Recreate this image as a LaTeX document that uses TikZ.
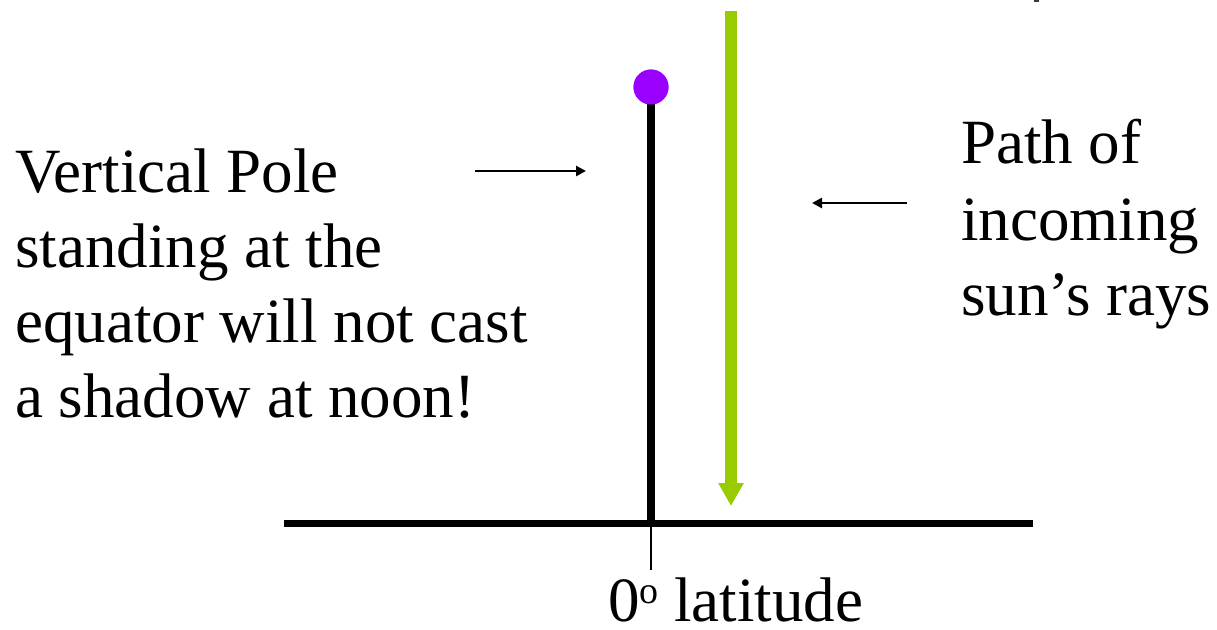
\documentclass[tikz,border=0pt]{standalone}
\usepackage{fontspec}
\setmainfont{Liberation Serif}
\usetikzlibrary{arrows.meta}
\definecolor{raygreen}{RGB}{153,204,0}
\definecolor{dotpurple}{RGB}{153,0,255}
\tikzset{
  bigtext/.style={font=\fontsize{63}{75}\selectfont, inner sep=0pt, anchor=base west},
  pointer/.style={line width=2.5pt, -{Triangle[length=10pt,width=10pt]}},
  ground/.style={line width=7pt},
}
\begin{document}
\begin{tikzpicture}[x=1pt,y=-1pt]
\useasboundingbox (0,0) rectangle (1217,629);
% small cut-off mark at top
\fill[black!75!olive] (1034,0) rectangle (1039,2);
% coordinates
\coordinate (gl) at (284,523);
\coordinate (gr) at (1033,523);
\coordinate (base) at (651,523);
\coordinate (ticke) at (651,570);
\coordinate (raystart) at (731,11);
\coordinate (rayend) at (731,506);
\coordinate (la) at (475,171);
\coordinate (lb) at (586,171);
\coordinate (ra) at (907,203);
\coordinate (rb) at (812,203);
% ground and tick
\draw[ground] (gl) -- (gr);
\draw[line width=2.5pt] (base) -- (ticke);
% pole and dot
\node[circle, fill=dotpurple, minimum size=35pt, inner sep=0pt] (dot) at (651,87) {};
\draw[line width=8pt] (dot.center) -- (base);
\node[circle, fill=dotpurple, minimum size=35pt, inner sep=0pt] at (dot.center) {};
% sun ray
\draw[raygreen, line width=12pt, -{Triangle[length=23pt,width=24pt]}] (raystart) -- (rayend);
% labels
\node[bigtext] (l1) at (15,192) {Vertical Pole};
\node[bigtext] (l2) at (15,267) {standing at the};
\node[bigtext] (l3) at (15,342) {equator will not cast};
\node[bigtext] (l4) at (15,417) {a shadow at noon!};
\node[bigtext] (r1) at (961,163) {Path of};
\node[bigtext] (r2) at (961,240) {incoming};
\node[bigtext] (r3) at (961,315) {sun’s rays};
\node[bigtext] (lat) at (608,621) {0\raisebox{18pt}{\fontsize{38}{38}\selectfont o} latitude};
% pointers
\draw[pointer] (la) -- (lb);
\draw[pointer] (ra) -- (rb);
\end{tikzpicture}
\end{document}
